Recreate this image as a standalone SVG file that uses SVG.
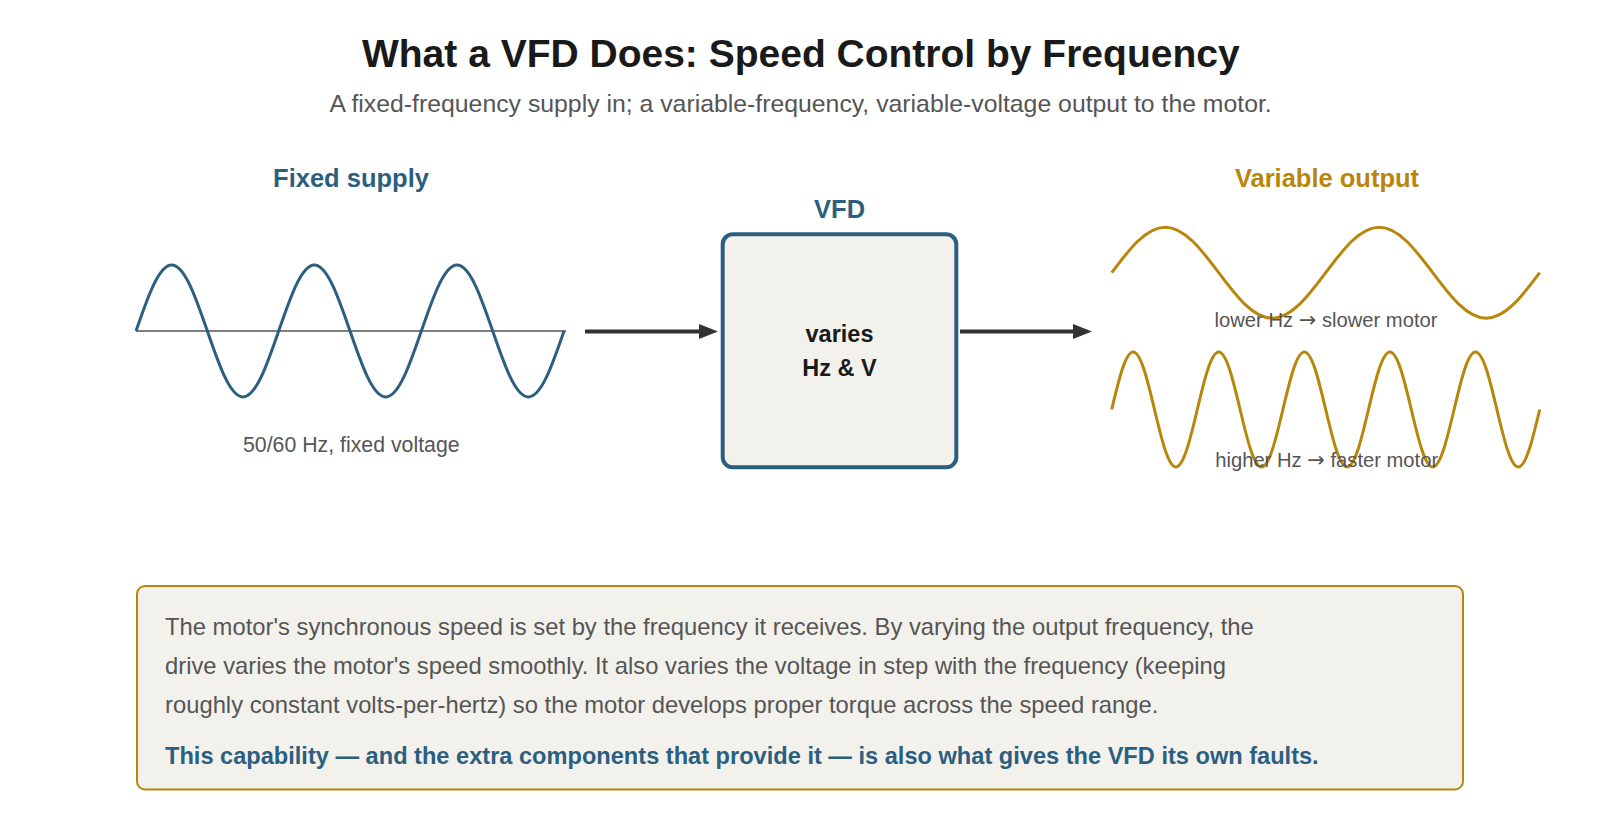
<svg xmlns="http://www.w3.org/2000/svg" width="1600" height="820" viewBox="0 0 1600 820">
  <defs>
    <style>
      text { font-family: "Liberation Sans", Arial, sans-serif; }
      .title { font-size: 39px; font-weight: bold; fill: #1a1a1a; text-anchor: middle; }
      .subtitle { font-size: 24.8px; fill: #555555; text-anchor: middle; }
      .head { font-size: 25.5px; font-weight: bold; text-anchor: middle; }
      .blue { fill: #2c5f7f; }
      .gold { fill: #b8860b; }
      .lbl { font-size: 21.3px; fill: #555555; text-anchor: middle; }
      .small { font-size: 20.2px; fill: #555555; text-anchor: middle; }
      .arr { font-family: "DejaVu Sans", sans-serif; font-size: 21px; }
      .inner { font-size: 23.5px; font-weight: bold; fill: #1a1a1a; text-anchor: middle; }
      .body { font-size: 23.8px; fill: #555555; }
      .bold { font-size: 23.6px; font-weight: bold; fill: #2c5f7f; }
      .wave-blue { fill: none; stroke: #2c5f7f; stroke-width: 3; stroke-linejoin: round; }
      .wave-gold { fill: none; stroke: #b8860b; stroke-width: 3; stroke-linejoin: round; }
      .conn { stroke: #333333; stroke-width: 4; fill: none; }
    </style>
    <marker id="arrow" viewBox="0 0 19 15" refX="1" refY="7.5" markerWidth="19" markerHeight="15" markerUnits="userSpaceOnUse" orient="auto">
      <path d="M0,0 L19,7.5 L0,15 z" fill="#333333"/>
    </marker>
  </defs>

  <rect x="0" y="0" width="1600" height="820" fill="#ffffff"/>

  <g id="header">
    <text class="title" x="800.8" y="66.7">What a VFD Does: Speed Control by Frequency</text>
    <text class="subtitle" x="800.6" y="112.3">A fixed-frequency supply in; a variable-frequency, variable-voltage output to the motor.</text>
  </g>

  <g id="fixed-supply">
    <text class="head blue" x="351" y="186.7">Fixed supply</text>
    <line x1="136" y1="331" x2="566" y2="331" stroke="#555555" stroke-width="1.6"/>
    <path class="wave-blue" d="M136,331 c11.63,-33.81 22.76,-66 35.67,-66
      s24.04,32.19 35.67,66 s22.76,66 35.67,66 s24.04,-32.19 35.67,-66 s22.76,-66 35.67,-66
      s24.04,32.19 35.67,66 s22.76,66 35.67,66 s24.04,-32.19 35.67,-66 s22.76,-66 35.67,-66
      s24.04,32.19 35.67,66 s22.76,66 35.67,66 s24.04,-32.19 35.67,-66"/>
    <text class="lbl" x="351.3" y="451.7">50/60 Hz, fixed voltage</text>
  </g>

  <g id="vfd">
    <text class="head blue" x="839.6" y="218.3">VFD</text>
    <rect x="722.7" y="234.3" width="233.6" height="233" rx="10" ry="10" fill="#f3f1ec" stroke="#2c5f7f" stroke-width="4"/>
    <text class="inner" x="839.5" y="341.7">varies</text>
    <text class="inner" x="839.5" y="376">Hz &amp; V</text>
  </g>

  <g id="variable-output">
    <text class="head gold" x="1327" y="186.7">Variable output</text>
    <path class="wave-gold" d="M1111.7,272.7 c17.45,-23.31 34.14,-45.5 53.5,-45.5
      s36.05,22.19 53.5,45.5 s34.14,45.5 53.5,45.5 s36.05,-22.19 53.5,-45.5 s34.14,-45.5 53.5,-45.5
      s36.05,22.19 53.5,45.5 s34.14,45.5 53.5,45.5 s36.05,-22.19 53.5,-45.5"/>
    <path class="wave-gold" d="M1111.7,409.5 c6.98,-29.46 13.66,-57.5 21.4,-57.5
      s14.42,28.04 21.4,57.5 s13.66,57.5 21.4,57.5 s14.42,-28.04 21.4,-57.5 s13.66,-57.5 21.4,-57.5
      s14.42,28.04 21.4,57.5 s13.66,57.5 21.4,57.5 s14.42,-28.04 21.4,-57.5 s13.66,-57.5 21.4,-57.5
      s14.42,28.04 21.4,57.5 s13.66,57.5 21.4,57.5 s14.42,-28.04 21.4,-57.5 s13.66,-57.5 21.4,-57.5
      s14.42,28.04 21.4,57.5 s13.66,57.5 21.4,57.5 s14.42,-28.04 21.4,-57.5 s13.66,-57.5 21.4,-57.5
      s14.42,28.04 21.4,57.5 s13.66,57.5 21.4,57.5 s14.42,-28.04 21.4,-57.5"/>
    <text class="small" x="1326" y="327.3">lower Hz <tspan class="arr">→</tspan> slower motor</text>
    <text class="small" x="1326.7" y="467.3">higher Hz <tspan class="arr">→</tspan> faster motor</text>
  </g>

  <g id="connectors">
    <line class="conn" x1="585" y1="331.5" x2="700" y2="331.5" marker-end="url(#arrow)"/>
    <line class="conn" x1="960" y1="331.5" x2="1074" y2="331.5" marker-end="url(#arrow)"/>
  </g>

  <g id="info">
    <rect x="137" y="586" width="1326" height="203.5" rx="8" ry="8" fill="#f3f1ec" stroke="#b8860b" stroke-width="2"/>
    <text class="body" x="165" y="635">The motor's synchronous speed is set by the frequency it receives. By varying the output frequency, the</text>
    <text class="body" x="165" y="674">drive varies the motor's speed smoothly. It also varies the voltage in step with the frequency (keeping</text>
    <text class="body" x="165" y="713.3">roughly constant volts-per-hertz) so the motor develops proper torque across the speed range.</text>
    <text class="bold" x="165" y="764">This capability — and the extra components that provide it — is also what gives the VFD its own faults.</text>
  </g>
</svg>
